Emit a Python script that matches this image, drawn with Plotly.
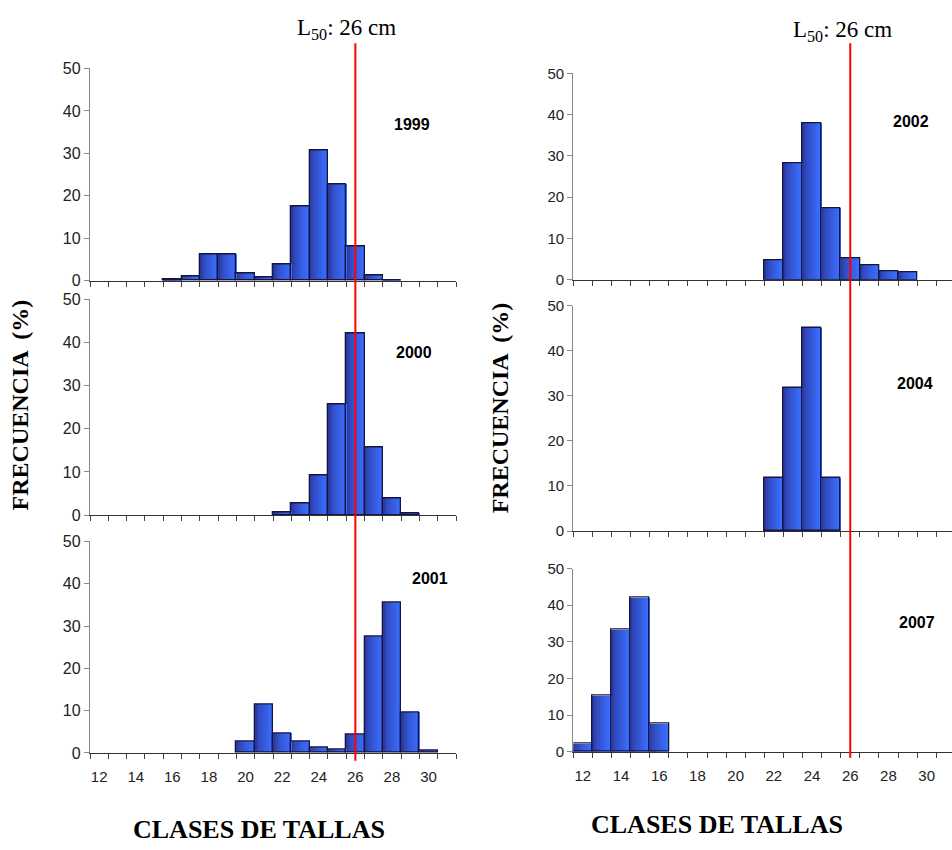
import plotly.graph_objects as go

W, H = 952, 850

# ---------------- data ----------------
size_classes = list(range(12, 32))          # 12 ... 31 cm
tick_labels = [12, 14, 16, 18, 20, 22, 24, 26, 28, 30]
L50 = 26

freq_1999 = [0, 0, 0, 0, 0.3, 1.0, 6.1, 6.1, 1.7, 0.7, 3.8, 17.5, 30.8, 22.6, 8.1, 1.2, 0.2, 0, 0, 0]
freq_2000 = [0, 0, 0, 0, 0, 0, 0, 0, 0, 0, 0.7, 2.7, 9.2, 25.7, 42.1, 15.6, 3.8, 0.4, 0, 0]
freq_2001 = [0, 0, 0, 0, 0, 0, 0, 0, 2.7, 11.5, 4.5, 2.6, 1.2, 0.8, 4.3, 27.6, 35.6, 9.6, 0.5, 0]
freq_2002 = [0, 0, 0, 0, 0, 0, 0, 0, 0, 0, 4.8, 28.1, 37.8, 17.4, 5.3, 3.4, 2.0, 1.8, 0, 0]
freq_2004 = [0, 0, 0, 0, 0, 0, 0, 0, 0, 0, 11.8, 31.8, 45.1, 11.8, 0, 0, 0, 0, 0, 0]
freq_2007 = [2.1, 15.2, 33.4, 42.0, 7.6, 0, 0, 0, 0, 0, 0, 0, 0, 0, 0, 0, 0, 0, 0, 0]

panels = [
    # year, values, axis index, x pixel span, y pixel span (top=50, bottom=0), label pixel pos
    ("1999", freq_1999, 1, (90, 456), (60.7, 277.7), (412, 118)),
    ("2000", freq_2000, 2, (90, 456), (296.7, 517), (414, 351)),
    ("2001", freq_2001, 3, (90, 456), (544, 760), (430, 582)),
    ("2002", freq_2002, 4, (573.3, 952), (65.7, 276.7), (911, 115)),
    ("2004", freq_2004, 5, (573.3, 952), (303.3, 533.3), (915, 383)),
    ("2007", freq_2007, 6, (573.3, 952), (571.7, 758.7), (917, 627)),
]

CAT_W_LEFT = 18.3
CAT_W_RIGHT = 19.1

fig = go.Figure()

# gradient approximation for the bars (dark navy on the left -> bright blue on the right)
n_strips = 10
c0 = (44, 56, 160)
c1 = (58, 110, 255)

def lerp(a, b, t):
    return tuple(int(round(a[i] + (b[i] - a[i]) * t)) for i in range(3))

layout_axes = {}
annotations = []

for year, vals, k, xs, ys, lab in panels:
    xa = "x" if k == 1 else f"x{k}"
    ya = "y" if k == 1 else f"y{k}"
    yvals = [v if v > 0 else None for v in vals]
    for s in range(n_strips):
        col = lerp(c0, c1, (s / (n_strips - 1)) ** 0.7)
        fig.add_trace(go.Bar(
            x=size_classes, y=yvals, xaxis=xa, yaxis=ya,
            width=1.0 / n_strips + 0.02, offset=-0.5 + s / n_strips,
            marker=dict(color=f"rgb{col}", line=dict(width=0)),
            showlegend=False, hoverinfo="skip"))
    fig.add_trace(go.Bar(
        x=size_classes, y=yvals, xaxis=xa, yaxis=ya, width=1.0,
        marker=dict(color="rgba(0,0,0,0)", line=dict(color="#15153f", width=1.3)),
        showlegend=False, name=year))

    right = k >= 4
    cw = CAT_W_RIGHT if right else CAT_W_LEFT
    xr = [11.5, 11.5 + (xs[1] - xs[0]) / cw]
    bottom = k in (3, 6)
    xname = "xaxis" if k == 1 else f"xaxis{k}"
    yname = "yaxis" if k == 1 else f"yaxis{k}"
    layout_axes[xname] = dict(
        domain=[xs[0] / W, min(xs[1] / W, 1.0)], range=xr, anchor=ya,
        showline=True, linecolor="#333333", linewidth=1.3,
        showgrid=False, zeroline=False,
        tickmode="array", tickvals=tick_labels, ticktext=[str(t) for t in tick_labels],
        ticks="outside", ticklen=0, showticklabels=bottom, ticklabelstandoff=10,
        tickfont=dict(family="Arial, Liberation Sans", size=15, color="#222222"),
        minor=dict(tickmode="linear", tick0=11.5, dtick=1, ticks="outside",
                   ticklen=5, tickcolor="#444444", tickwidth=1, showgrid=False),
        fixedrange=True,
    )
    layout_axes[yname] = dict(
        domain=[1 - ys[1] / H, 1 - ys[0] / H], range=[0, 50], anchor=xa,
        showline=True, linecolor="#888888", linewidth=1.3,
        showgrid=False, zeroline=False,
        tickmode="array", tickvals=[0, 10, 20, 30, 40, 50],
        ticks="outside", ticklen=5, tickcolor="#888888",
        tickfont=dict(family="Arial, Liberation Sans", size=15 if right else 16, color="#222222"),
        fixedrange=True,
    )
    annotations.append(dict(
        text=f"<b>{year}</b>", x=lab[0] / W, y=1 - lab[1] / H, xref="paper", yref="paper",
        showarrow=False, font=dict(family="Arial, Liberation Sans", size=16, color="#000000"),
        xanchor="center", yanchor="middle"))

# L50 reference lines spanning each column
shapes = [
    dict(type="line", xref="x", yref="paper", x0=L50, x1=L50,
         y0=1 - 768 / H, y1=1 - 35 / H, line=dict(color="#ff0000", width=2)),
    dict(type="line", xref="x4", yref="paper", x0=L50, x1=L50,
         y0=1 - 765 / H, y1=1 - 35 / H, line=dict(color="#ff0000", width=2)),
]

serif = "Liberation Serif, Times New Roman, serif"
annotations += [
    dict(text=f"L<sub>50</sub>: {L50} cm", x=346 / W, y=1 - 20 / H, xref="paper", yref="paper",
         showarrow=False, font=dict(family=serif, size=23, color="#000"), xanchor="center", yanchor="middle"),
    dict(text=f"L<sub>50</sub>: {L50} cm", x=842 / W, y=1 - 22 / H, xref="paper", yref="paper",
         showarrow=False, font=dict(family=serif, size=23, color="#000"), xanchor="center", yanchor="middle"),
    dict(text="<b>FRECUENCIA  (%)</b>", x=20 / W, y=1 - 405 / H, xref="paper", yref="paper",
         showarrow=False, textangle=-90, font=dict(family=serif, size=24, color="#000"),
         xanchor="center", yanchor="middle"),
    dict(text="<b>FRECUENCIA  (%)</b>", x=500 / W, y=1 - 408 / H, xref="paper", yref="paper",
         showarrow=False, textangle=-90, font=dict(family=serif, size=24, color="#000"),
         xanchor="center", yanchor="middle"),
    dict(text="<b>CLASES DE TALLAS</b>", x=259 / W, y=1 - 838 / H, xref="paper", yref="paper",
         showarrow=False, font=dict(family=serif, size=26, color="#000"),
         xanchor="center", yanchor="middle"),
    dict(text="<b>CLASES DE TALLAS</b>", x=717 / W, y=1 - 833 / H, xref="paper", yref="paper",
         showarrow=False, font=dict(family=serif, size=26, color="#000"),
         xanchor="center", yanchor="middle"),
]

fig.update_layout(
    width=W, height=H, margin=dict(l=0, r=0, t=0, b=0),
    paper_bgcolor="white", plot_bgcolor="white",
    barmode="overlay", bargap=0,
    shapes=shapes, annotations=annotations,
    **layout_axes,
)

post = (
    "document.documentElement.style.margin='0';"
    "document.documentElement.style.padding='0';"
    "document.documentElement.style.overflow='hidden';"
    "document.body.style.margin='0';"
    "document.body.style.padding='0';"
    "document.body.style.overflow='hidden';"
    "var gd=document.getElementById('{plot_id}');"
    "gd.style.position='absolute';gd.style.top='0px';gd.style.left='0px';"
)

fig.write_html(
    "out.html",
    config={"displayModeBar": False},
    post_script=post,
)
